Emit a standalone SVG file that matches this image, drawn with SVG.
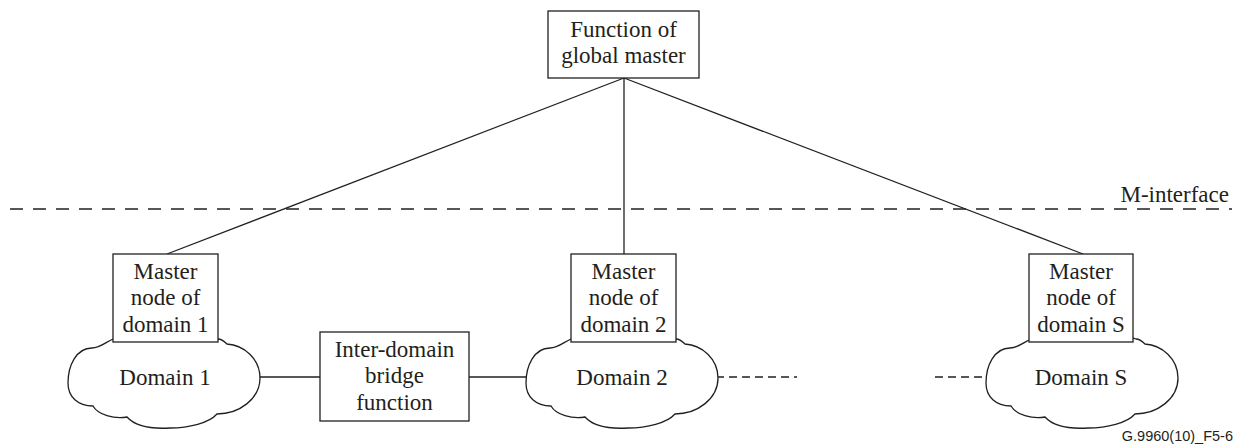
<svg xmlns="http://www.w3.org/2000/svg" width="1239" height="446" viewBox="0 0 1239 446" font-family="Liberation Serif, serif">
<style>
.ln{stroke:#231f20;stroke-width:1.3;fill:none}
.bx{stroke:#231f20;stroke-width:1.3;fill:#fff}
.cl{stroke:#231f20;stroke-width:1.3;fill:#fff}
.t{font-size:23px;fill:#231f20;text-anchor:middle}
.ds{stroke-dasharray:8 5}
.mi{stroke-dasharray:13 10}
</style>
<defs>
<path id="cloud" d="M -51,-42 C -58,-39 -64,-33 -72,-33 C -88,-33 -96,-15 -96,2 C -96,16 -86,25 -71,25 C -66,34 -50,38 -37,36 C -28,46 -10,48 6,47 C 25,47 45,42 53,33 C 75,33 96,18 96,-3 C 96,-22 80,-36 63,-37 C 60,-40 57,-42 54,-42 C 30,-50 -30,-50 -51,-42 Z"/>
</defs>
<rect width="1239" height="446" fill="#fff"/>
<g id="connectors">
<line class="ln mi" x1="10" y1="209" x2="1232" y2="209"/>
<line class="ln" x1="624" y1="78" x2="167" y2="254"/>
<line class="ln" x1="624" y1="78" x2="624" y2="254"/>
<line class="ln" x1="624" y1="78" x2="1083" y2="254"/>
<line class="ln" x1="258" y1="377" x2="320" y2="377"/>
<line class="ln" x1="469" y1="377" x2="528" y2="377"/>
<line class="ln ds" x1="716" y1="377" x2="797" y2="377"/>
<line class="ln ds" x1="935" y1="377" x2="987" y2="377"/>
</g>
<g id="m-interface-label"><text class="t" x="1229" y="202" style="text-anchor:end">M-interface</text></g>
<g id="global-master">
<rect class="bx" x="548" y="11" width="151" height="67"/>
<text class="t" x="623.5" y="37">Function of</text>
<text class="t" x="623.5" y="63">global master</text>
</g>
<g id="domain1">
<use href="#cloud" class="cl" transform="translate(164,381)"/>
<text class="t" x="165" y="385">Domain 1</text>
</g>
<g id="master1">
<rect class="bx" x="113" y="254" width="105" height="88"/>
<text class="t" x="165.5" y="279">Master</text>
<text class="t" x="165.5" y="305">node of</text>
<text class="t" x="165.5" y="332">domain 1</text>
</g>
<g id="bridge">
<rect class="bx" x="320" y="332" width="149" height="89"/>
<text class="t" x="394.5" y="357">Inter-domain</text>
<text class="t" x="394.5" y="383">bridge</text>
<text class="t" x="394.5" y="410">function</text>
</g>
<g id="domain2">
<use href="#cloud" class="cl" transform="translate(622,381)"/>
<text class="t" x="622" y="385">Domain 2</text>
</g>
<g id="master2">
<rect class="bx" x="571" y="254" width="105" height="88"/>
<text class="t" x="623.5" y="279">Master</text>
<text class="t" x="623.5" y="305">node of</text>
<text class="t" x="623.5" y="332">domain 2</text>
</g>
<g id="domainS">
<use href="#cloud" class="cl" transform="translate(1082,381)"/>
<text class="t" x="1081" y="385">Domain S</text>
</g>
<g id="masterS">
<rect class="bx" x="1029" y="254" width="104" height="88"/>
<text class="t" x="1081" y="279">Master</text>
<text class="t" x="1081" y="305">node of</text>
<text class="t" x="1081" y="332">domain S</text>
</g>
<g id="footer"><text x="1233" y="441" font-family="Liberation Sans, Arial, sans-serif" font-size="14.5" fill="#231f20" text-anchor="end">G.9960(10)_F5-6</text></g>
</svg>
